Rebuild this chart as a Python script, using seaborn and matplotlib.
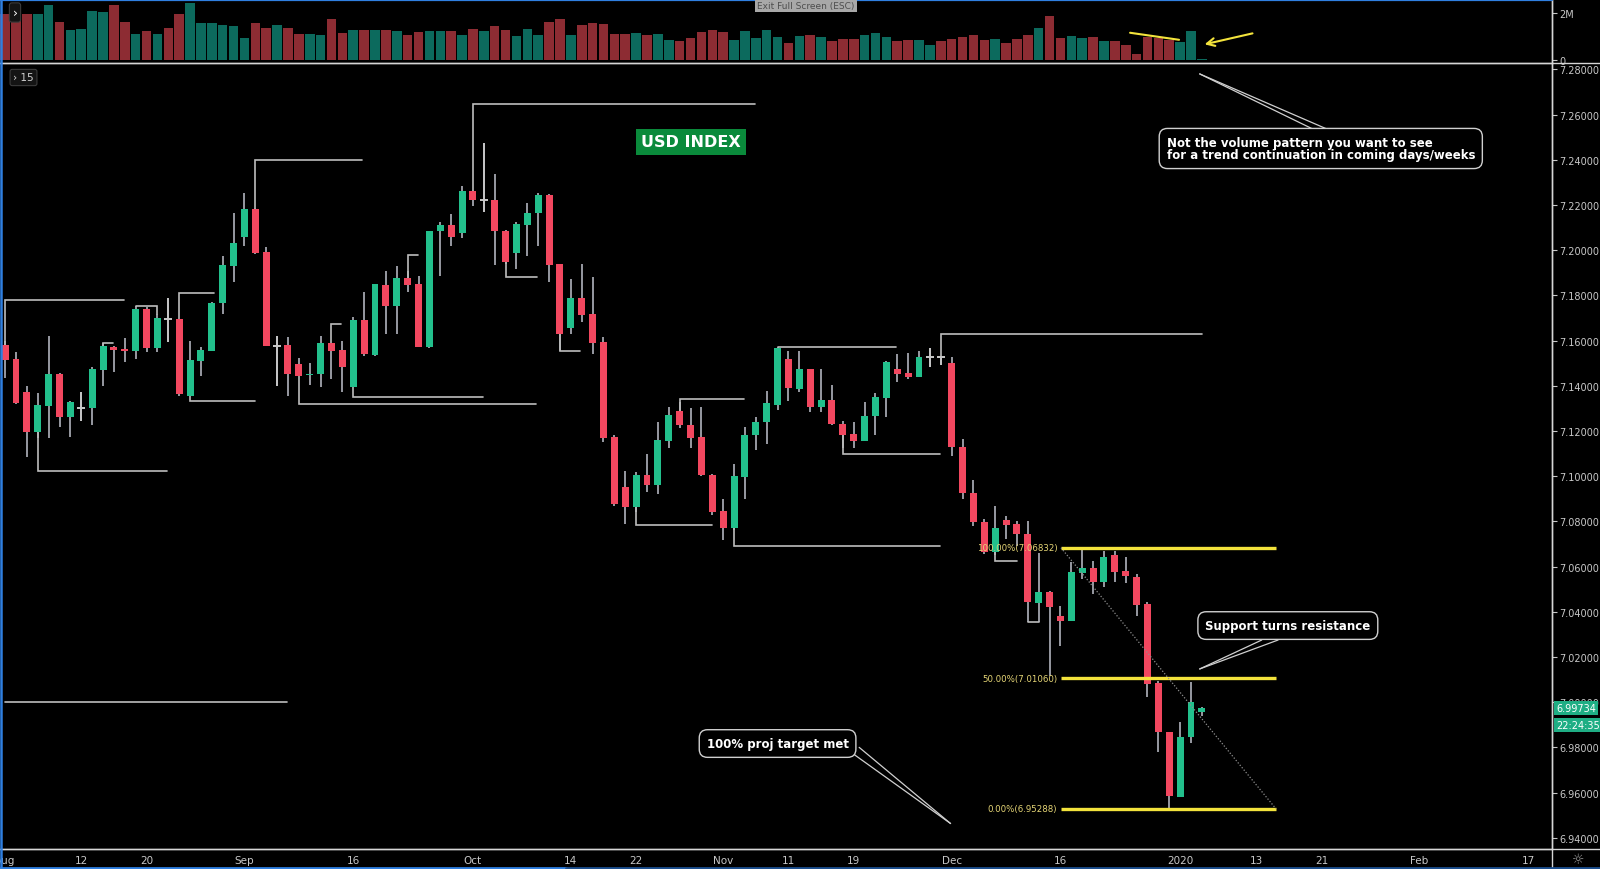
import numpy as np
import pandas as pd
import matplotlib
matplotlib.use("Agg")
import matplotlib.pyplot as plt
from matplotlib.lines import Line2D
import seaborn as sns

# ---------------- data (daily bars, Aug 1 2019 -> Jan 6 2020) ----------------
opens = [7.1580, 7.1519, 7.1374, 7.1197, 7.1312, 7.1451, 7.1263, 7.1300, 7.1300, 7.1471,
         7.1573, 7.1563, 7.1554, 7.1740, 7.1566, 7.1696, 7.1696, 7.1356, 7.1511, 7.1554,
         7.1765, 7.1931, 7.2057, 7.2182, 7.1991, 7.1577, 7.1580, 7.1495, 7.1448, 7.1452,
         7.1589, 7.1558, 7.1396, 7.1692, 7.1536, 7.1846, 7.1754, 7.1876, 7.1850, 7.1570,
         7.2086, 7.2113, 7.2076, 7.2261, 7.2222, 7.2223, 7.2086, 7.1987, 7.2113, 7.2163,
         7.2246, 7.1939, 7.1654, 7.1787, 7.1718, 7.1593, 7.1172, 7.0951, 7.0865, 7.1007,
         7.0961, 7.1157, 7.1287, 7.1228, 7.1175, 7.1007, 7.0845, 7.0771, 7.0998, 7.1182,
         7.1239, 7.1316, 7.1519, 7.1386, 7.1474, 7.1307, 7.1337, 7.1231, 7.1187, 7.1157,
         7.1265, 7.1346, 7.1474, 7.1455, 7.1440, 7.1526, 7.1526, 7.1499, 7.1128, 7.0926,
         7.0796, 7.0663, 7.0808, 7.0788, 7.0744, 7.0439, 7.0489, 7.0380, 7.0361, 7.0571,
         7.0592, 7.0533, 7.0651, 7.0579, 7.0553, 7.0434, 7.0085, 6.9869, 6.9582, 6.9845,
         6.9955]
highs = [7.1600, 7.1548, 7.1400, 7.1368, 7.1622, 7.1455, 7.1332, 7.1374, 7.1482, 7.1589,
         7.1575, 7.1610, 7.1754, 7.1747, 7.1716, 7.1787, 7.1697, 7.1600, 7.1573, 7.1769,
         7.1976, 7.2163, 7.2253, 7.2185, 7.2016, 7.1622, 7.1615, 7.1522, 7.1501, 7.1619,
         7.1590, 7.1598, 7.1706, 7.1816, 7.1849, 7.1909, 7.1931, 7.1907, 7.1884, 7.2086,
         7.2124, 7.2160, 7.2286, 7.2265, 7.2474, 7.2337, 7.2090, 7.2123, 7.2207, 7.2252,
         7.2249, 7.1941, 7.1873, 7.1939, 7.1880, 7.1615, 7.1182, 7.1024, 7.1017, 7.1098,
         7.1238, 7.1305, 7.1330, 7.1300, 7.1305, 7.1009, 7.0899, 7.1052, 7.1216, 7.1260,
         7.1378, 7.1570, 7.1553, 7.1553, 7.1476, 7.1474, 7.1403, 7.1246, 7.1241, 7.1327,
         7.1368, 7.1511, 7.1540, 7.1545, 7.1553, 7.1566, 7.1530, 7.1526, 7.1165, 7.0984,
         7.0810, 7.0867, 7.0825, 7.0800, 7.0803, 7.0662, 7.0493, 7.0424, 7.0619, 7.0683,
         7.0626, 7.0670, 7.0670, 7.0641, 7.0567, 7.0442, 7.0095, 6.9870, 6.9914, 7.0088,
         6.9977]
lows = [7.1433, 7.1319, 7.1084, 7.1170, 7.1168, 7.1216, 7.1172, 7.1246, 7.1227, 7.1398,
        7.1460, 7.1507, 7.1519, 7.1548, 7.1551, 7.1595, 7.1356, 7.1354, 7.1445, 7.1554,
        7.1717, 7.1858, 7.2020, 7.1985, 7.1575, 7.1398, 7.1354, 7.1445, 7.1404, 7.1393,
        7.1430, 7.1371, 7.1394, 7.1530, 7.1530, 7.1629, 7.1629, 7.1816, 7.1570, 7.1568,
        7.1884, 7.2017, 7.2053, 7.2194, 7.2170, 7.1934, 7.1940, 7.1917, 7.1976, 7.2017,
        7.1861, 7.1556, 7.1629, 7.1681, 7.1541, 7.1150, 7.0869, 7.0788, 7.0840, 7.0931,
        7.0921, 7.1123, 7.1212, 7.1123, 7.1000, 7.0830, 7.0719, 7.0760, 7.0899, 7.1117,
        7.1142, 7.1293, 7.1331, 7.1371, 7.1285, 7.1285, 7.1226, 7.1123, 7.1123, 7.1155,
        7.1182, 7.1263, 7.1415, 7.1430, 7.1438, 7.1482, 7.1490, 7.1091, 7.0899, 7.0778,
        7.0655, 7.0650, 7.0722, 7.0692, 7.0356, 7.0356, 7.0117, 7.0250, 7.0358, 7.0545,
        7.0479, 7.0508, 7.0530, 7.0527, 7.0383, 7.0021, 6.9778, 6.9529, 6.9580, 6.9819,
        6.9940]
closes = [7.1515, 7.1324, 7.1197, 7.1315, 7.1451, 7.1263, 7.1330, 7.1301, 7.1474, 7.1575,
          7.1560, 7.1553, 7.1740, 7.1566, 7.1699, 7.1695, 7.1362, 7.1515, 7.1558, 7.1766,
          7.1936, 7.2031, 7.2182, 7.1988, 7.1577, 7.1578, 7.1451, 7.1445, 7.1454, 7.1589,
          7.1555, 7.1484, 7.1692, 7.1541, 7.1849, 7.1754, 7.1876, 7.1846, 7.1570, 7.2086,
          7.2113, 7.2057, 7.2261, 7.2222, 7.2223, 7.2086, 7.1946, 7.2116, 7.2163, 7.2246,
          7.1936, 7.1629, 7.1787, 7.1713, 7.1589, 7.1168, 7.0877, 7.0865, 7.1007, 7.0961,
          7.1160, 7.1272, 7.1226, 7.1169, 7.1005, 7.0843, 7.0771, 7.1000, 7.1184, 7.1241,
          7.1322, 7.1566, 7.1389, 7.1474, 7.1307, 7.1337, 7.1231, 7.1183, 7.1157, 7.1265,
          7.1349, 7.1507, 7.1452, 7.1440, 7.1526, 7.1527, 7.1525, 7.1128, 7.0924, 7.0796,
          7.0663, 7.0769, 7.0784, 7.0744, 7.0442, 7.0489, 7.0420, 7.0361, 7.0575, 7.0592,
          7.0533, 7.0641, 7.0577, 7.0557, 7.0430, 7.0080, 6.9867, 6.9586, 6.9845, 7.0002,
          6.99734]
volumes_m = [1.96, 1.67, 1.96, 1.96, 2.36, 1.64, 1.28, 1.35, 2.10, 2.04,
             2.36, 1.61, 1.13, 1.25, 1.13, 1.38, 1.96, 2.43, 1.57, 1.57,
             1.49, 1.46, 0.94, 1.57, 1.38, 1.52, 1.38, 1.13, 1.13, 1.09,
             1.75, 1.16, 1.28, 1.28, 1.28, 1.30, 1.25, 1.06, 1.20, 1.25,
             1.23, 1.25, 1.06, 1.35, 1.25, 1.46, 1.28, 1.03, 1.35, 1.09,
             1.64, 1.75, 1.09, 1.49, 1.57, 1.54, 1.10, 1.10, 1.17, 1.06,
             1.13, 0.87, 0.83, 0.96, 1.20, 1.30, 1.20, 0.87, 1.25, 0.96,
             1.28, 0.99, 0.74, 1.03, 1.06, 1.01, 0.84, 0.91, 0.91, 1.09,
             1.17, 0.99, 0.81, 0.87, 0.87, 0.65, 0.81, 0.91, 0.99, 1.09,
             0.87, 0.91, 0.72, 0.91, 1.06, 1.38, 1.90, 0.96, 1.03, 0.96,
             0.99, 0.84, 0.84, 0.65, 0.26, 1.01, 0.96, 0.87, 0.77, 1.25,
             0.04]

date_tick_pos = [0, 7, 13, 22, 32, 43, 52, 58, 66, 72, 78, 87, 97, 108, 115, 121, 130, 140]
date_tick_labels = ['Aug', '12', '20', 'Sep', '16', 'Oct', '14', '22', 'Nov', '11', '19',
                    'Dec', '16', '2020', '13', '21', 'Feb', '17']
price_ticks = [6.94, 6.96, 6.98, 7.00, 7.02, 7.04, 7.06, 7.08, 7.10, 7.12, 7.14,
               7.16, 7.18, 7.20, 7.22, 7.24, 7.26, 7.28]
volume_ticks = [0, 2]
volume_tick_labels = ['0', '2M']

fib_levels = [7.06832, 7.01060, 6.95288]
fib_labels = ['100.00%(7.06832)', '50.00%(7.01060)', '0.00%(6.95288)']
fib_span = [97.05, 116.8]
last_price = 6.99734
countdown = '22:24:35'

# hand-drawn level lines on the chart: (bar, price) vertices
drawn_levels = [
    [(0, 7.1580), (0, 7.1781), (10.9, 7.1781)],
    [(3, 7.1197), (3, 7.1024), (14.85, 7.1024)],
    [(9, 7.1575), (9, 7.1589), (9.95, 7.1589)],
    [(12, 7.1754), (14, 7.1754), (14, 7.1716)],
    [(16, 7.1696), (16, 7.1811), (19.2, 7.1811)],
    [(17, 7.1356), (17, 7.1334), (23.0, 7.1334)],
    [(23, 7.2185), (23, 7.2400), (32.8, 7.2400)],
    [(27, 7.1445), (27, 7.1319), (48.8, 7.1319)],
    [(30, 7.1589), (30, 7.1672), (30.9, 7.1672)],
    [(32, 7.1394), (32, 7.1349), (43.9, 7.1349)],
    [(37, 7.1876), (37, 7.1980), (37.95, 7.1980)],
    [(43, 7.2265), (43, 7.2647), (68.9, 7.2647)],
    [(46, 7.1946), (46, 7.1880), (48.9, 7.1880)],
    [(51, 7.1629), (51, 7.1554), (52.85, 7.1554)],
    [(58, 7.0865), (58, 7.0784), (64.95, 7.0784)],
    [(62, 7.1287), (62, 7.1342), (67.9, 7.1342)],
    [(67, 7.0771), (67, 7.0690), (85.9, 7.0690)],
    [(71, 7.1573), (81.9, 7.1573)],
    [(77, 7.1183), (77, 7.1098), (85.9, 7.1098)],
    [(86, 7.1525), (86, 7.1630), (110.0, 7.1630)],
    [(91, 7.0663), (91, 7.0626), (93.0, 7.0626)],
    [(94, 7.0356), (95, 7.0356)],
    [(0, 7.0000), (25.9, 7.0000)],
]

# ---------------- style ----------------
sns.set_theme(style="dark", rc={"axes.facecolor": "#000000", "figure.facecolor": "#000000",
                                "axes.grid": False})
plt.rcParams['font.family'] = ['DejaVu Sans']

GREEN = "#22c08c"
RED = "#f2475f"
WICK = "#a3a6af"
DOJI = "#c9c9c9"
VGREEN = "#0c6a5d"
VRED = "#8d2c33"
TXT = "#c8c8c8"
SPINE = "#d6d6d6"
YEL = "#f3e33c"
FIBTXT = "#e6d676"
DRAW = "#bdbdbd"

W, H = 1600, 870
fig = plt.figure(figsize=(16, 8.7), dpi=100)

def fx(x):
    return x / W

def fy(y):
    return 1 - y / H

axm = fig.add_axes([0, fy(850), fx(1552), (850 - 64.3) / H])
axv = fig.add_axes([0, fy(64.3), fx(1552), (64.3 - 1) / H])

idx = np.arange(len(opens))
o = np.array(opens); c = np.array(closes); h = np.array(highs); l = np.array(lows)
up = c >= o
doji = np.abs(c - o) < 0.00025

# ---------------- volume pane (seaborn) ----------------
vol_df = pd.DataFrame({"bar": idx, "volume": volumes_m,
                       "direction": np.where(up, "up", "down")})
sns.barplot(data=vol_df, x="bar", y="volume", hue="direction",
            palette={"up": VGREEN, "down": VRED}, native_scale=True, dodge=False,
            width=0.88, saturation=1, errorbar=None, legend=False, ax=axv, linewidth=0)
axv.set_xlim(-0.469, 142.18)
axv.set_ylim(-0.132, 2.567)
axv.set_xlabel(""); axv.set_ylabel("")
axv.set_xticks([])
axv.yaxis.tick_right()
axv.set_yticks(volume_ticks, volume_tick_labels)
axv.tick_params(axis="y", colors=TXT, labelsize=7, length=3.5, width=0.8, pad=1.5)
for s in ["top", "left"]:
    axv.spines[s].set_visible(False)
for s in ["right", "bottom"]:
    axv.spines[s].set_color(SPINE); axv.spines[s].set_linewidth(1.0)

# volume annotation (yellow)
axv.plot([103.4, 107.9], [1.17, 0.87], color=YEL, lw=1.5, solid_capstyle="round", zorder=5)
axv.annotate("", xy=(110.0, 0.65), xytext=(114.9, 1.17),
             arrowprops=dict(arrowstyle="->", color=YEL, lw=1.5, mutation_scale=14),
             annotation_clip=False, zorder=5)

# ---------------- main pane ----------------
axm.set_xlim(-0.469, 142.18)
axm.set_ylim(6.93503, 7.2827)
axm.vlines(idx, l, h, color=WICK, lw=1.3, zorder=2)
nd = ~doji
body_col = np.where(up, GREEN, RED)
axm.bar(idx[nd], np.maximum(np.abs(c - o)[nd], 0.0004), bottom=np.minimum(o, c)[nd],
        width=0.64, color=body_col[nd], linewidth=0, zorder=3)
axm.hlines(o[doji], idx[doji] - 0.36, idx[doji] + 0.36, color=DOJI, lw=1.4, zorder=3)
axm.vlines(idx[doji], l[doji], h[doji], color=DOJI, lw=1.3, zorder=3)

for pts in drawn_levels:
    xs, ys = zip(*pts)
    axm.plot(xs, ys, color=DRAW, lw=1.2, zorder=2.5, solid_joinstyle="miter")

# fib levels
for lev, lab in zip(fib_levels, fib_labels):
    axm.hlines(lev, fib_span[0], fib_span[1], color=YEL, lw=2.4, zorder=4)
    axm.text(fib_span[0] - 0.35, lev, lab, color=FIBTXT, fontsize=6.2, ha="right",
             va="center", zorder=5)
axm.plot([fib_span[0], fib_span[1]], [fib_levels[0], fib_levels[2]], color="#8f8f8f",
         lw=0.9, ls=(0, (1, 1.5)), zorder=4)

# axes ticks
axm.yaxis.tick_right()
axm.set_yticks(price_ticks, [f"{v:.5f}" for v in price_ticks])
axm.tick_params(axis="y", colors=TXT, labelsize=7, length=3.5, width=0.8, pad=1.5)
axm.set_xticks(date_tick_pos, date_tick_labels)
axm.tick_params(axis="x", colors=TXT, labelsize=7.5, length=3, width=0.8, pad=1.5)
for s in ["top", "left"]:
    axm.spines[s].set_visible(False)
for s in ["right", "bottom"]:
    axm.spines[s].set_color(SPINE); axm.spines[s].set_linewidth(1.0)

# last price + countdown labels
ytr = axm.get_yaxis_transform()
for val, txt in ((last_price, f"{last_price:.5f}"), (6.9899, countdown)):
    axm.text(1.0028, val, txt, transform=ytr, ha="left", va="center",
             color="white", fontsize=7, zorder=10,
             bbox=dict(boxstyle="square,pad=0.22", fc="#1fae84", ec="none"))

# title tag
axm.text(63.0, 7.2479, "USD INDEX", color="white", fontsize=11.5, fontweight="bold",
         ha="center", va="center", zorder=6,
         bbox=dict(boxstyle="square,pad=0.32", fc="#0a8a3b", ec="none"))

# callouts
callout_box = dict(boxstyle="round,pad=0.62,rounding_size=0.7", fc="#000000",
                   ec="#d0d0d0", lw=1.0)
axm.text(106.75, 7.2450,
         "Not the volume pattern you want to see\nfor a trend continuation in coming days/weeks",
         color="white", fontsize=8.5, fontweight="bold", ha="left", va="center",
         linespacing=0.95, zorder=6, bbox=callout_box)
for xe in (120.2, 121.5):
    axm.plot([109.8, xe], [7.2780, 7.2536], color="#d0d0d0", lw=0.9, zorder=5)

axm.text(117.9, 7.0339, "Support turns resistance", color="white", fontsize=8.5,
         fontweight="bold", ha="center", va="center", zorder=6, bbox=callout_box)
for xs_, ys_ in ((115.5, 7.0275), (117.0, 7.0275)):
    axm.plot([xs_, 109.8], [ys_, 7.0147], color="#d0d0d0", lw=0.9, zorder=5)

axm.text(71.0, 6.9817, "100% proj target met", color="white", fontsize=8.5,
         fontweight="bold", ha="center", va="center", zorder=6, bbox=callout_box)
for xs_, ys_ in ((77.7, 6.9780), (78.5, 6.9800)):
    axm.plot([xs_, 86.9], [ys_, 6.9463], color="#d0d0d0", lw=0.9, zorder=5)

# ---------------- chrome ----------------
fig.add_artist(Line2D([fx(1552), fx(1552)], [0, 1], color=SPINE, lw=1.0))
fig.add_artist(Line2D([0, 1], [fy(850), fy(850)], color=SPINE, lw=1.0))
fig.add_artist(Line2D([0, 1], [fy(64.3), fy(64.3)], color=SPINE, lw=1.0))
fig.add_artist(Line2D([0, fx(1552)], [fy(0.8), fy(0.8)], color="#2f7fe0", lw=1.6))
fig.add_artist(Line2D([fx(1), fx(1)], [0, 1], color="#2f7fe0", lw=1.8))
fig.add_artist(Line2D([0, fx(566)], [fy(869), fy(869)], color="#2f7fe0", lw=2.0))
fig.add_artist(Line2D([fx(566), 1], [fy(869), fy(869)], color="#1c4f8f", lw=2.0))

fig.text(fx(806), fy(6.5), "Exit Full Screen (ESC)", ha="center", va="center",
         fontsize=6.5, color="#4d4d4d", zorder=20,
         bbox=dict(boxstyle="square,pad=0.25", fc="#a8a8a8", ec="none"))
fig.text(fx(15), fy(13.5), "\u203a", ha="center", va="center", fontsize=9, color="white",
         zorder=20, bbox=dict(boxstyle="round,pad=0.25,rounding_size=0.2", fc="#141414",
                              ec="#3c3c3c", lw=0.8))
fig.text(fx(23.5), fy(78.5), "\u203a 15", ha="center", va="center", fontsize=7.5,
         color="#d0d0d0", zorder=20,
         bbox=dict(boxstyle="round,pad=0.3,rounding_size=0.2", fc="#141414",
                   ec="#3c3c3c", lw=0.8))
fig.text(fx(1578), fy(860), "\u263c", ha="center", va="center", fontsize=10,
         color="#9a9a9a", zorder=20)

fig.savefig("out.png", dpi=100, facecolor="#000000")
